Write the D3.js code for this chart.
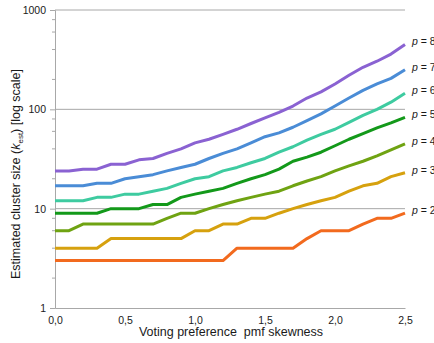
<!DOCTYPE html>
<html>
<head>
<meta charset="utf-8">
<script src="https://cdn.jsdelivr.net/npm/d3@7"></script>
<style>
  body { margin: 0; background: #fff; }
  text { font-family: "Liberation Sans", Arial, sans-serif; fill: #1a1a1a; }
</style>
</head>
<body>
<svg id="chart" width="434" height="343"></svg>
<script>
let svg = d3.select("#chart");

// skewness values 0.0 .. 2.5 step 0.1
let skew = d3.range(26).map(i => i / 10);

let p2 = [3,3,3,3,3,3,3,3,3,3,3,3,3,4,4,4,4,4,5,6,6,6,7,8,8,9];
let p3 = [4,4,4,4,5,5,5,5,5,5,6,6,7,7,8,8,9,10,11,12,13,15,17,18,21,23];
let p4 = [6,6,7,7,7,7,7,7,8,9,9,10,11,12,13,14,15,17,19,21,24,27,30,34,39,45];
let p5 = [9,9,9,9,10,10,10,11,11,13,14,15,16,18,20,22,25,30,33,37,43,50,57,65,73,83];
let p6 = [12,12,12,13,13,14,14,15,16,18,20,21,24,26,29,32,37,42,49,56,63,74,87,100,118,145];
let p7 = [17,17,17,18,18,20,21,22,24,26,28,32,36,40,46,53,58,66,77,90,108,130,155,180,205,250];
let p8 = [24,24,25,25,28,28,31,32,36,40,46,50,56,63,72,82,93,108,130,150,180,220,265,305,360,450];

let seriesNames = ["p = 2", "p = 3", "p = 4", "p = 5", "p = 6", "p = 7", "p = 8"];
let seriesValues = [p2, p3, p4, p5, p6, p7, p8];
let seriesColors = ["#f26a1e", "#d6a10e", "#6fa312", "#13991a", "#3ecba0", "#4a8cd6", "#8a62d2"];

let yMajor = [1, 10, 100, 1000];
let yMinor = [2, 4, 6, 8, 20, 40, 60, 80, 200, 400, 600, 800];
let xTicks = [0, 0.5, 1.0, 1.5, 2.0, 2.5];

let x = d3.scaleLinear().domain([0, 2.5]).range([55, 405]);
let y = d3.scaleLog().domain([1, 1000]).range([308, 10]);

// gridlines at 10, 100, 1000
svg.append("g")
  .selectAll("line")
  .data([10, 100, 1000])
  .join("line")
  .attr("x1", x(0)).attr("x2", x(2.5))
  .attr("y1", d => y(d)).attr("y2", d => y(d))
  .attr("stroke", "#a8a8a8").attr("stroke-width", 1);

// y axis
let yAxis = svg.append("g")
  .attr("transform", `translate(${x(0)},0)`)
  .call(d3.axisLeft(y).tickValues(yMajor).tickFormat(d3.format("d")).tickSize(5).tickPadding(4));
yAxis.select(".domain").attr("stroke", "#a8a8a8");
yAxis.selectAll(".tick line").attr("stroke", "#a8a8a8");
yAxis.selectAll("text").attr("font-size", 10.5).attr("font-family", "Liberation Sans, Arial, sans-serif");

svg.append("g")
  .selectAll("line")
  .data(yMinor)
  .join("line")
  .attr("x1", x(0) - 3).attr("x2", x(0))
  .attr("y1", d => y(d)).attr("y2", d => y(d))
  .attr("stroke", "#a8a8a8");

// x axis
let xAxis = svg.append("g")
  .attr("transform", `translate(0,${y(1)})`)
  .call(d3.axisBottom(x).tickValues(xTicks).tickFormat(d => d3.format(".1f")(d).replace(".", ",")).tickSize(0).tickPadding(9));
xAxis.select(".domain").attr("stroke", "#a8a8a8");
xAxis.selectAll("text").attr("font-size", 10.5).attr("font-family", "Liberation Sans, Arial, sans-serif");

// lines
let line = d3.line()
  .x((d, i) => x(skew[i]))
  .y(d => y(d));

svg.append("g")
  .selectAll("path")
  .data(seriesValues)
  .join("path")
  .attr("d", line)
  .attr("fill", "none")
  .attr("stroke", (d, i) => seriesColors[i])
  .attr("stroke-width", 3)
  .attr("stroke-linejoin", "round");

// series labels on the right
let labels = svg.append("g")
  .selectAll("text")
  .data(seriesValues)
  .join("text")
  .attr("x", x(2.5) + 7)
  .attr("y", d => y(d[d.length - 1]) - 2)
  .attr("dominant-baseline", "middle")
  .attr("font-size", 10.5);
labels.append("tspan").attr("font-style", "italic").text("p");
labels.append("tspan").text((d, i) => seriesNames[i].slice(1));

// axis titles
svg.append("text")
  .attr("x", 231)
  .attr("y", 336)
  .attr("text-anchor", "middle")
  .attr("font-size", 12.5)
  .text("Voting preference \u00a0pmf skewness");

let yTitle = svg.append("text")
  .attr("transform", "translate(20,174) rotate(-90)")
  .attr("text-anchor", "middle")
  .attr("font-size", 12.5);
yTitle.append("tspan").text("Estimated cluster size (");
yTitle.append("tspan").attr("font-style", "italic").text("k");
yTitle.append("tspan").attr("font-size", 8).attr("dy", 3).text("est");
yTitle.append("tspan").attr("dy", -3).text(") [log scale]");
</script>
</body>
</html>
